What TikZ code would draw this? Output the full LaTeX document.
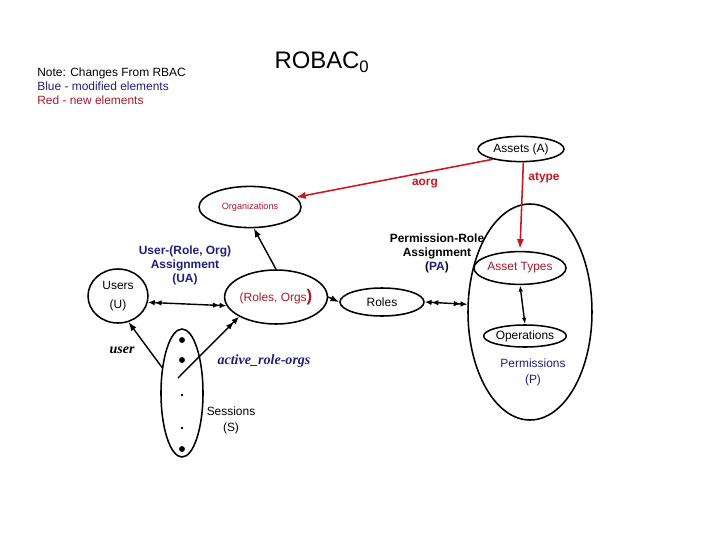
\documentclass[tikz,border=0pt]{standalone}
\usepackage{fontspec}
\setmainfont{Liberation Sans}
\newfontfamily\serifit{Liberation Serif}
\usetikzlibrary{arrows.meta,positioning,shapes.geometric}
\definecolor{modblue}{RGB}{30,30,125}
\definecolor{newred}{RGB}{170,25,40}
\definecolor{arrred}{RGB}{205,20,35}
\tikzset{
  oval/.style={
    ellipse,
    draw=black,
    line width=1.1pt,
    inner sep=0pt,
    align=center,
    font=\fontsize{8.5}{12}\selectfont
  },
  link/.style={-{Latex[length=2.2mm,width=1.6mm]}, line width=1pt, draw=black},
  redlink/.style={-{Latex[length=2.4mm,width=1.8mm]}, line width=1.1pt, draw=arrred},
  manylink/.style={
    {Latex[length=1.7mm,width=1.4mm]Latex[length=1.7mm,width=1.4mm]}-{Latex[length=1.7mm,width=1.4mm]Latex[length=1.7mm,width=1.4mm]},
    line width=1pt, draw=black},
  onemany/.style={-{Latex[length=1.9mm,width=1.5mm]Latex[length=1.9mm,width=1.5mm]}, line width=1pt, draw=black},
  thinlink/.style={{Latex[length=1.6mm,width=1.1mm]}-{Latex[length=1.6mm,width=1.1mm]}, line width=1pt, draw=black},
  sessdot/.style={circle, fill=black, inner sep=0pt, minimum size=4.2pt},
  smalldot/.style={circle, fill=black, inner sep=0pt, minimum size=1.8pt},
  txt/.style={align=center, font=\fontsize{8.5}{10}\selectfont, inner sep=0pt},
  boldlabel/.style={align=center, font=\fontsize{8.5}{10}\selectfont\bfseries, inner sep=0pt},
  funclabel/.style={font=\fontsize{10}{12}\selectfont\serifit\bfseries\itshape, inner sep=0pt}
}
\begin{document}
\begin{tikzpicture}
  \useasboundingbox (0,0) rectangle (18,-13.5);

  % Title and note
  \node[font=\fontsize{17}{20}\selectfont] (title) at (8.05,-1.55) {ROBAC$_{\mathrm{0}}$};
  \node[anchor=north west,align=left,inner sep=0pt,font=\fontsize{8.5}{9.9}\selectfont] (note) at (0.925,-1.7)
    {Note: Changes From RBAC\\\textcolor{modblue}{Blue - modified elements}\\\textcolor{newred}{Red - new elements}};

  % Assets side
  \node[oval,minimum width=2.15cm,minimum height=0.63cm] (assets) at (13.025,-3.725) {Assets (A)};
  \node[oval,minimum width=2.55cm,minimum height=1.03cm,font=\fontsize{6.5}{8}\selectfont,text=newred] (orgs) at (6.25,-5.175) {Organizations};

  % Permissions
  \node[oval,minimum width=3.1cm,minimum height=5.4cm] (perm) at (13.25,-7.8) {};
  \node[oval,minimum width=2.1cm,minimum height=0.82cm,text=newred] (types) at (13.0,-6.7) {Asset Types};
  \node[oval,minimum width=2.0cm,minimum height=0.55cm] (ops) at (13.125,-8.4) {Operations};
  \node[txt,text=modblue] (permtext) at (13.325,-9.3) {Permissions\\[1.5pt](P)};

  % Users, roles and sessions
  \node[oval,minimum width=1.5cm,minimum height=1.35cm] (users) at (2.95,-7.4) {Users\\[2pt](U)};
  \node[oval,minimum width=2.15cm,minimum height=1.35cm,text=newred] (ro) at (6.9,-7.425) {(Roles, Orgs\textbf{\large )}};
  \node[oval,minimum width=2.1cm,minimum height=0.7cm] (roles) at (9.55,-7.55) {Roles};
  \node[oval,minimum width=1.05cm,minimum height=3.2cm] (sessions) at (4.55,-9.825) {};
  \node[txt] (sesstext) at (5.775,-10.5) {Sessions\\[1.5pt](S)};

  \node[sessdot] (s1) at (4.55,-8.5) {};
  \node[sessdot] (s2) at (4.55,-9.0) {};
  \node[smalldot] (s3) at (4.55,-9.875) {};
  \node[smalldot] (s4) at (4.55,-10.7) {};
  \node[sessdot] (s5) at (4.55,-11.225) {};
  \coordinate (sessfrom) at (4.45,-9.45);

  % Connectors
  \draw[redlink] (assets.200) -- (orgs.12);
  \draw[redlink] (assets.-80) -- ([yshift=1.5pt]types.north);
  \draw[manylink] (users.-12) -- (ro.190);
  \draw[link] (ro.north) -- (orgs.-80);
  \draw[link] (ro.east) -- (roles.west);
  \draw[manylink] (roles.east) -- (perm.173);
  \draw[thinlink] (types.south) -- (ops.north);
  \draw[link] (sessions.128) -- (users.-68);
  \draw[onemany] (sessfrom) -- (ro.208);

  % Labels
  \node[boldlabel,text=arrred] (aorglabel) at (10.625,-4.6) {aorg};
  \node[boldlabel,text=arrred] (atypelabel) at (13.6,-4.45) {atype};
  \node[boldlabel,text=modblue] (ualabel) at (4.625,-6.625) {User-(Role, Org)\\Assignment\\(UA)};
  \node[boldlabel] (palabel) at (10.925,-6.325) {Permission-Role\\Assignment\\(\textcolor{modblue}{PA})};
  \node[funclabel] (userlabel) at (3.05,-8.75) {user};
  \node[funclabel,text=modblue] (activelabel) at (6.6,-9.025) {active\_role-orgs};
\end{tikzpicture}
\end{document}
